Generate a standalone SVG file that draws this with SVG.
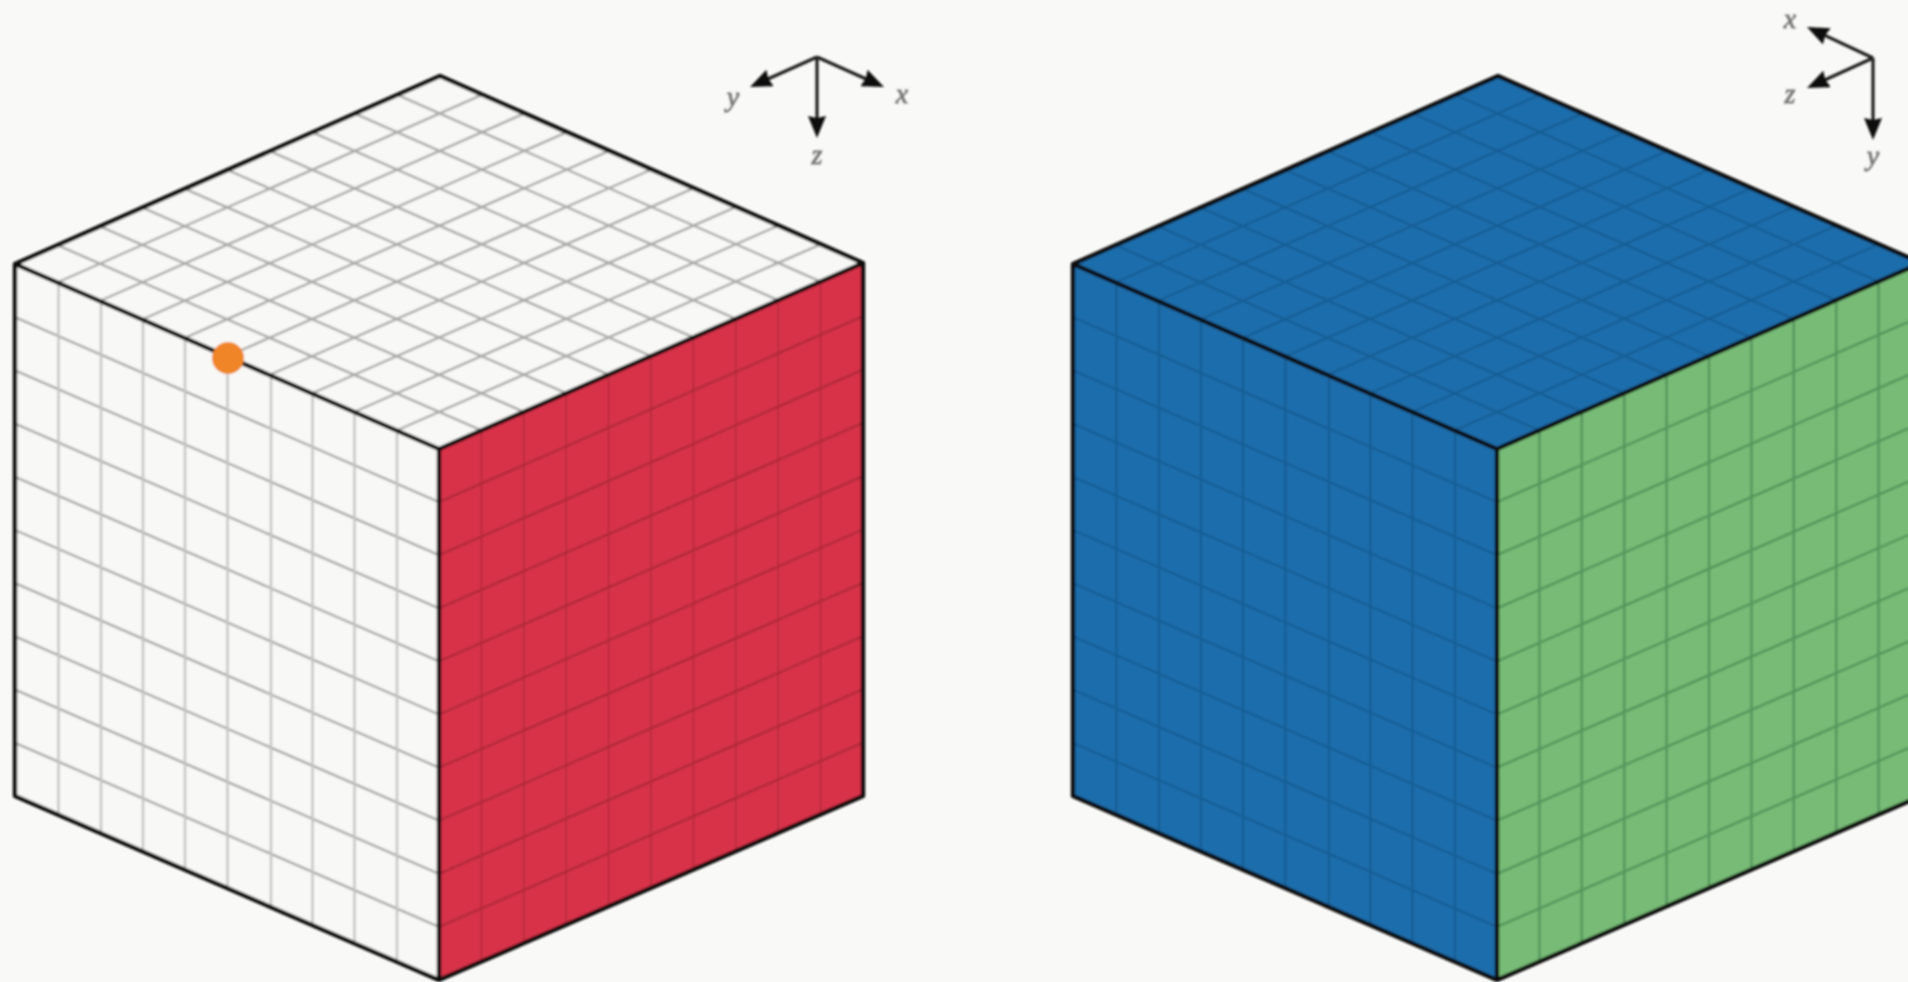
<svg xmlns="http://www.w3.org/2000/svg" width="1908" height="982" viewBox="0 0 1908 982">
<style>
.grid{fill:none;stroke-width:2.4}
.edge{fill:none;stroke:#0c0c0c;stroke-width:4.4;stroke-linejoin:round}
.axis{stroke:#1c1c1c;stroke-width:3.2;fill:none;marker-end:url(#head)}
.lab{font-family:"Liberation Serif","DejaVu Serif",serif;font-style:italic;font-size:28px;fill:#777;stroke:#777;stroke-width:.8;text-anchor:middle}
.w{fill:#f8f8f6}.wg{stroke:#a9a9a7}.wv{stroke:#c4c4c2}
.r{fill:#d83348}.rg{stroke:#b02a3b}.rv{stroke:#c02d40}
.b{fill:#1e6dab}.bg{stroke:#195f97}
.g{fill:#77bb76}.gg{stroke:#55945c}
</style>
<defs>
<marker id="head" markerUnits="userSpaceOnUse" viewBox="0 0 22 18" markerWidth="22" markerHeight="18" refX="14" refY="9" orient="auto"><path d="M0 0L22 9L0 18L2 9Z" fill="#111"/></marker>
<filter id="soft" x="0" y="0" width="1908" height="982" filterUnits="userSpaceOnUse"><feGaussianBlur stdDeviation="1"/></filter>
<path id="top-grid" d="M57.4 282.5L482.3 94.7M99.8 301L524.6 113.4M142.2 319.5L566.9 132.1M184.6 338L609.2 150.8M227 356.5L651.5 169.5M269.4 375L693.8 188.2M311.8 393.5L736.1 206.9M354.2 412L778.4 225.6M396.6 430.5L820.7 244.3M57.5 245.2L481.4 430.4M100 226.4L523.8 411.8M142.5 207.6L566.2 393.2M185 188.8L608.6 374.6M227.5 170L651 356M270 151.2L693.4 337.4M312.5 132.4L735.8 318.8M355 113.6L778.2 300.2M397.5 94.8L820.6 281.6"/>
<path id="left-h" d="M15 317.2L439 502.1M15 370.4L439 555.2M15 423.6L439 608.3M15 476.8L439 661.4M15 530L439 714.5M15 583.2L439 767.6M15 636.4L439 820.7M15 689.6L439 873.8M15 742.8L439 926.9"/>
<path id="left-v" d="M58.5 283V815M101 301.5V833.5M143 320V851.5M185 338V869.6M227.5 356.5V888M271 375.5V907M312.5 393.5V925M354.5 412V943.2M397 430.5V961.6"/>
<path id="right-v" d="M481.4 430.4V961.6M523.8 411.8V943.2M566.2 393.2V924.8M608.6 374.6V906.4M651 356V888M693.4 337.4V869.6M735.8 318.8V851.2M778.2 300.2V832.8M820.6 281.6V814.4"/>
<path id="right-h" d="M439 502.1L863 316.3M439 555.2L863 369.6M439 608.3L863 422.9M439 661.4L863 476.2M439 714.5L863 529.5M439 767.6L863 582.8M439 820.7L863 636.1M439 873.8L863 689.4M439 926.9L863 742.7"/>
<path id="outline" d="M15 264L440 76L863 263V796L439 980L15 796ZM15 264L439 449L863 263M439 449V980"/>
</defs>
<rect width="1908" height="982" fill="#f9f9f7"/>
<g filter="url(#soft)">
<g id="cube-left">
<path class="w" d="M15 264L440 76L863 263L439 449Z"/>
<path class="w" d="M15 264L439 449V980L15 796Z"/>
<path class="r" d="M439 449L863 263V796L439 980Z"/>
<use href="#top-grid" class="grid wg"/>
<use href="#left-h" class="grid wg"/>
<use href="#left-v" class="grid wv"/>
<use href="#right-v" class="grid rv"/>
<use href="#right-h" class="grid rg"/>
<use href="#outline" class="edge"/>
<circle id="point" cx="228" cy="358" r="16" fill="#ef8527"/>
</g>
<g id="cube-right" transform="translate(1058 0)">
<path class="b" d="M15 264L440 76L863 263L439 449Z"/>
<path class="b" d="M15 264L439 449V980L15 796Z"/>
<path class="g" d="M439 449L863 263V796L439 980Z"/>
<use href="#top-grid" class="grid bg"/>
<use href="#left-h" class="grid bg"/>
<use href="#left-v" class="grid bg"/>
<use href="#right-v" class="grid gg"/>
<use href="#right-h" class="grid gg"/>
<use href="#outline" class="edge"/>
</g>
<g id="axes-left">
<path class="axis" d="M817 57L757.3 83.7"/>
<path class="axis" d="M817 57L876.7 83.7"/>
<path class="axis" d="M817 57V130"/>
<text class="lab" x="733" y="106">y</text>
<text class="lab" x="902" y="103">x</text>
<text class="lab" x="817" y="164">z</text>
</g>
<g id="axes-right">
<path class="axis" d="M1873 58L1814.2 30.4"/>
<path class="axis" d="M1873 58L1814.3 84.7"/>
<path class="axis" d="M1873 58V132"/>
<text class="lab" x="1790" y="28">x</text>
<text class="lab" x="1790" y="103">z</text>
<text class="lab" x="1873" y="165">y</text>
</g>
</g>
</svg>
